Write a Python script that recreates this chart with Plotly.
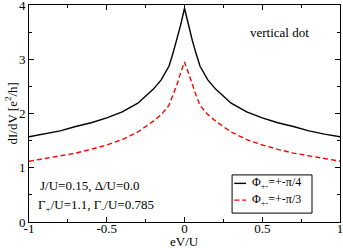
import plotly.graph_objects as go

x_vals = [-1.0, -0.9, -0.8, -0.7, -0.6, -0.5, -0.4, -0.3, -0.2, -0.15, -0.1, -0.075, -0.05, -0.025, 0.0,
          0.025, 0.05, 0.075, 0.1, 0.15, 0.2, 0.3, 0.4, 0.5, 0.6, 0.7, 0.8, 0.9, 1.0]
g_pi4 = [1.57, 1.62, 1.68, 1.76, 1.83, 1.92, 2.03, 2.19, 2.45, 2.62, 2.87, 3.10, 3.35, 3.63, 3.94,
         3.63, 3.35, 3.10, 2.87, 2.62, 2.45, 2.19, 2.03, 1.92, 1.83, 1.76, 1.68, 1.62, 1.57]
g_pi3 = [1.12, 1.17, 1.22, 1.27, 1.34, 1.42, 1.52, 1.66, 1.86, 1.98, 2.15, 2.33, 2.52, 2.75, 2.95,
         2.75, 2.52, 2.33, 2.15, 1.98, 1.86, 1.66, 1.52, 1.42, 1.34, 1.27, 1.22, 1.17, 1.12]
names = ["Φ<sub>+-</sub>=+-π/4", "Φ<sub>+-</sub>=+-π/3"]
colors = ["black", "#ff0000"]
dashes = ["solid", "5px,3px"]

FONT = "Liberation Serif, Times New Roman, serif"

fig = go.Figure()
for ys, nm, c, d in [(g_pi4, names[0], colors[0], dashes[0]), (g_pi3, names[1], colors[1], dashes[1])]:
    fig.add_trace(go.Scatter(x=x_vals, y=ys, mode="lines", name=nm, showlegend=False,
                             line=dict(color=c, width=1.4, dash=d)))

axis_common = dict(showgrid=False, zeroline=False, showline=True, linecolor="black", linewidth=1,
                   mirror="ticks", ticks="inside", ticklen=5, tickcolor="black", automargin=False,
                   ticklabeloverflow="allow",
                   tickfont=dict(family=FONT, size=13, color="black"))

fig.update_xaxes(range=[-1, 1], tickvals=[-1, -0.5, 0, 0.5, 1], ticktext=["-1", "-0.5", "0", "0.5", "1"],
                 minor=dict(ticks="inside", ticklen=3, dtick=0.25, tickcolor="black"),
                 ticklabelstandoff=-6,
                 **axis_common)
fig.update_yaxes(range=[0, 4], tickvals=[0, 1, 2, 3, 4],
                 minor=dict(ticks="inside", ticklen=3, dtick=0.5, tickcolor="black"),
                 **axis_common)

# axis titles
fig.add_annotation(text="eV/U", x=0.5, y=0, xref="paper", yref="paper", showarrow=False,
                   xanchor="center", yanchor="middle", yshift=-19,
                   font=dict(family=FONT, size=13, color="black"))
fig.add_annotation(text="dI/dV [e<sup>2</sup>/h]", x=0, y=0.5, xref="paper", yref="paper", showarrow=False,
                   xanchor="center", yanchor="middle", xshift=-18, textangle=-90,
                   font=dict(family=FONT, size=13, color="black"))

fig.add_annotation(text="vertical dot", x=0.907, y=0.871, xref="paper", yref="paper",
                   showarrow=False, xanchor="right", yanchor="middle",
                   font=dict(family=FONT, size=13, color="black"))
fig.add_annotation(text="J/U=0.15, Δ/U=0.0", x=0.029, y=0.166, xref="paper", yref="paper",
                   showarrow=False, xanchor="left", yanchor="middle",
                   font=dict(family=FONT, size=13, color="black"))
fig.add_annotation(text="Γ<sub>+</sub>/U=1.1, Γ<sub>-</sub>/U=0.785", x=0.023, y=0.078, xref="paper", yref="paper",
                   showarrow=False, xanchor="left", yanchor="middle",
                   font=dict(family=FONT, size=13, color="black"))

# legend box drawn by hand (compact, like the original)
fig.add_shape(type="rect", xref="paper", yref="paper", x0=0.653, x1=0.910, y0=0.041, y1=0.217,
              line=dict(color="black", width=1), fillcolor="white", layer="above")
leg_y = [0.178, 0.101]
for i in range(2):
    fig.add_shape(type="line", xref="paper", yref="paper", x0=0.660, x1=0.698, y0=leg_y[i], y1=leg_y[i],
                  line=dict(color=colors[i], width=1.4, dash=dashes[i]), layer="above")
    fig.add_annotation(text=names[i], x=0.711, y=leg_y[i], xref="paper", yref="paper",
                       showarrow=False, xanchor="left", yanchor="middle",
                       font=dict(family=FONT, size=12, color="black"))

fig.update_layout(
    width=343, height=248,
    margin=dict(l=29, r=3, t=5, b=26),
    paper_bgcolor="white", plot_bgcolor="white",
)

fig.write_html("out.html", config={"displayModeBar": False},
               post_script="document.body.style.margin='0';")
